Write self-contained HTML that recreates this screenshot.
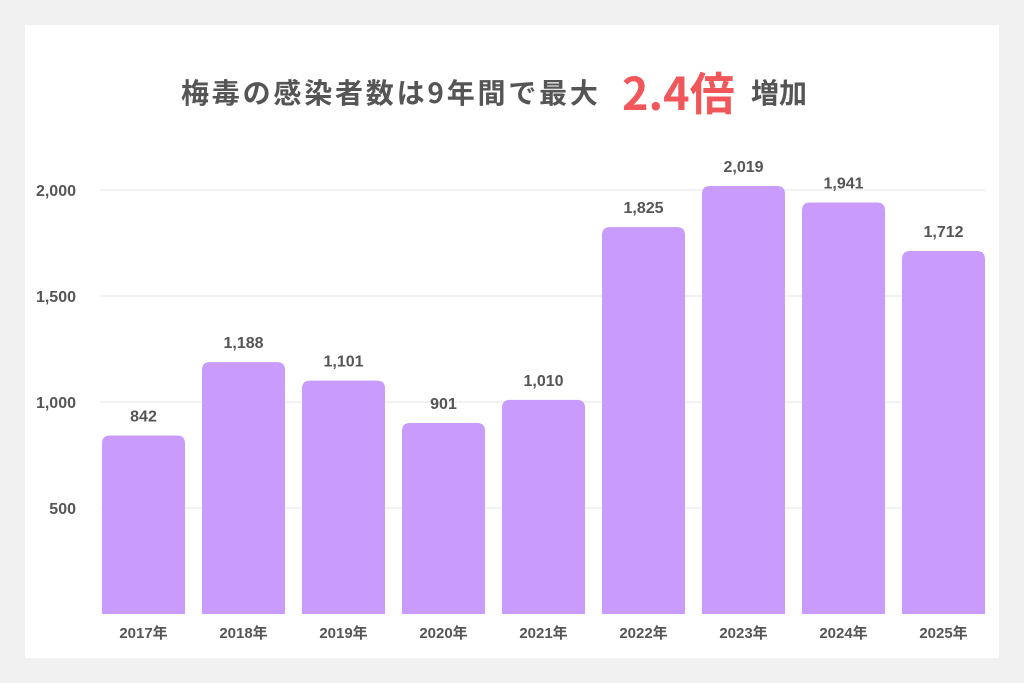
<!DOCTYPE html>
<html><head><meta charset="utf-8">
<style>
body{margin:0;width:1024px;height:683px;background:#f1f1f1;font-family:"Liberation Sans","Noto Sans CJK JP",sans-serif;}
#card{position:absolute;left:25px;top:25px;width:974px;height:633px;background:#fff;}
#title{position:absolute;left:0;top:62px;width:1024px;height:50px;text-align:center;font-family:"Noto Sans CJK JP",sans-serif;font-weight:700;color:#555;white-space:nowrap;}
</style></head><body>
<div id="card"></div>
<div id="title"><span style="position:absolute;left:181px;top:10px;font-size:28px;letter-spacing:2.8px">梅毒の感染者数は9年間で最大</span><span style="position:absolute;left:622px;top:-4px;font-size:45px;color:#f0565a">2.4倍</span><span style="position:absolute;left:751px;top:10px;font-size:28px">増加</span></div>
<svg id="chart" width="1024" height="683" style="position:absolute;left:0;top:0"></svg>
<script>
const categories=["2017年","2018年","2019年","2020年","2021年","2022年","2023年","2024年","2025年"];
const values=[842,1188,1101,901,1010,1825,2019,1941,1712];
const valueLabels=["842","1,188","1,101","901","1,010","1,825","2,019","1,941","1,712"];
const yTicks=[500,1000,1500,2000];
const yTickLabels=["500","1,000","1,500","2,000"];
const svg=document.getElementById('chart');
const NS='http://www.w3.org/2000/svg';
const y0=614,pxPer=106/500,x0=102,step=100,bw=83;
const y=v=>y0-v*pxPer;
const x=i=>x0+i*step;
function mk(t,a){const e=document.createElementNS(NS,t);for(const k in a)e.setAttribute(k,a[k]);svg.appendChild(e);return e;}
const F='"Liberation Sans","Noto Sans CJK JP",sans-serif';
yTicks.forEach((t,i)=>{
 const g=mk('line',{x1:100,x2:985,y1:y(t),y2:y(t),stroke:'#e6e6e6','stroke-width':1});
 
 
 const l=mk('text',{x:76,y:y(t)+6,'text-anchor':'end','font-size':16,'font-weight':700,fill:'#555','font-family':F});
 l.textContent=yTickLabels[i];
 
 
});
values.forEach((v,i)=>{
 const top=y(v),h=y0-top,r=8;
 const p=mk('path',{d:`M${x(i)},${y0}V${top+r}Q${x(i)},${top} ${x(i)+r},${top}H${x(i)+bw-r}Q${x(i)+bw},${top} ${x(i)+bw},${top+r}V${y0}Z`,fill:'#c89bfd'});
 
 
 const t=mk('text',{x:x(i)+bw/2,y:top-14,'text-anchor':'middle','font-size':16,'font-weight':700,fill:'#555','font-family':F});
 t.textContent=valueLabels[i];
 
 
 const c=mk('text',{x:x(i)+bw/2,y:638,'text-anchor':'middle','font-size':15,'font-weight':700,fill:'#555','font-family':F});
 c.textContent=categories[i];
 
 
});
</script>
</body></html>
